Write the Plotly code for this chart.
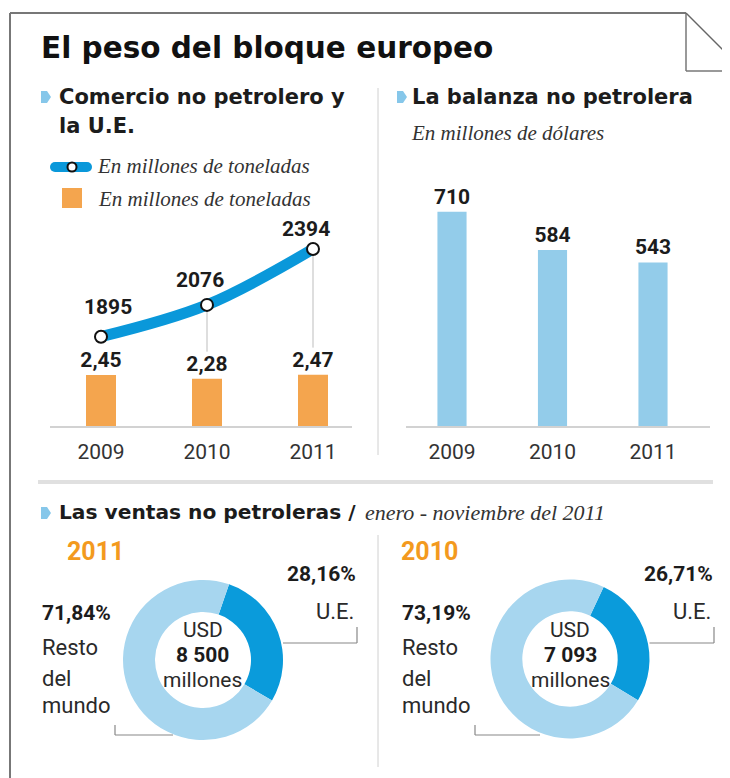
import plotly.graph_objects as go

# ---------------- data ----------------
years = ["2009", "2010", "2011"]
tonnage_orange = [2.45, 2.28, 2.47]          # bars, left chart
tonnage_line = [1895, 2076, 2394]            # line, left chart
balanza = [710, 584, 543]                    # bars, right chart

donut_years = ["2011", "2010"]
donut_labels = ["U.E.", "Resto del mundo"]
donut_ue = [28.16, 26.71]
donut_rest = [71.84, 73.19]
donut_totals = [8500, 7093]

# ---------------- helpers ----------------
W, H = 730, 778
OX, OY = 8, 8                      # page body margin of the browser
FW, FH = W - OX, H - OY            # figure size
SANS = "Roboto, 'Liberation Sans', Arial, sans-serif"
HEAD = "'DejaVu Sans', Verdana, sans-serif"
SERIF = "'Liberation Serif', 'DejaVu Serif', serif"
DARK = "#1c1c1c"
BODY = "#2a2a2a"
ORANGE = "#F4A54E"
LINEBLUE = "#0A98DA"
UEBLUE = "#0A9BDB"
LIGHTBLUE = "#A7D6EF"
BARBLUE = "#93CCEA"
BULLET = "#86C7EA"


def px(x):
    return (x - OX) / FW


def py(y):
    return 1 - (y - OY) / FH


def fmt_dec(v, nd=2):
    return f"{v:.{nd}f}".replace(".", ",")


def fmt_thousands(v):
    return f"{v:,}".replace(",", " ")


annotations = []
shapes = []


def text(x, y, s, size=21, bold=False, color=DARK, anchor="left", family=SANS, italic=False):
    annotations.append(dict(
        x=px(x), y=py(y), xref="paper", yref="paper", text=s, showarrow=False,
        xanchor=anchor, yanchor="middle",
        font=dict(family=family, size=size, color=color,
                  weight="bold" if bold else "normal",
                  style="italic" if italic else "normal"),
    ))


def pline(x0, y0, x1, y1, color="#777", width=1.5):
    shapes.append(dict(type="line", xref="paper", yref="paper",
                       x0=px(x0), y0=py(y0), x1=px(x1), y1=py(y1),
                       line=dict(color=color, width=width)))


def bullet(x0, yc):
    pts = [(x0, yc - 6), (x0 + 6, yc - 6), (x0 + 10, yc), (x0 + 6, yc + 6), (x0, yc + 6)]
    path = "M " + " L ".join(f"{px(a)},{py(b)}" for a, b in pts) + " Z"
    shapes.append(dict(type="path", xref="paper", yref="paper", path=path,
                       fillcolor=BULLET, line=dict(width=0)))


# ---------------- geometry of the small charts ----------------
BASE = 427          # baseline pixel
TOP = 140           # top of plotting domain pixel
BAR_PX_PER_UNIT = 21.2
LINE_PX_PER_UNIT = 0.17575
LINE_AT_BASE = 1381.2
BAL_PX_PER_UNIT = 0.303

bar_range = [0, (BASE - TOP) / BAR_PX_PER_UNIT]
line_range = [LINE_AT_BASE, LINE_AT_BASE + (BASE - TOP) / LINE_PX_PER_UNIT]
bal_range = [0, (BASE - TOP) / BAL_PX_PER_UNIT]


def px_to_line_val(p):
    return LINE_AT_BASE + (BASE - p) / LINE_PX_PER_UNIT


def bar_val_to_px(v):
    return BASE - v * BAR_PX_PER_UNIT


fig = go.Figure()

# left chart: orange bars
fig.add_trace(go.Bar(
    x=years, y=tonnage_orange, xaxis="x", yaxis="y",
    marker=dict(color=ORANGE, line=dict(width=0)), width=0.283,
    text=[fmt_dec(v) for v in tonnage_orange], textposition="outside",
    constraintext="none",
    textfont=dict(family=SANS, size=21, color=DARK, weight="bold"),
    cliponaxis=False, showlegend=False, hoverinfo="skip",
))

# connectors from the line markers down to bar labels (2010, 2011)
for i in (1, 2):
    top_px = bar_val_to_px(tonnage_orange[i]) - 27
    shapes.append(dict(type="line", xref="x", yref="y2",
                       x0=i, x1=i,
                       y0=tonnage_line[i], y1=px_to_line_val(top_px),
                       line=dict(color="#BDBDBD", width=1), layer="below"))

# left chart: blue line
fig.add_trace(go.Scatter(
    x=years, y=tonnage_line, xaxis="x", yaxis="y2", mode="lines+markers",
    line=dict(color=LINEBLUE, width=11, shape="spline"),
    marker=dict(size=12, color="white", line=dict(color="#111", width=2)),
    cliponaxis=False, showlegend=False, hoverinfo="skip",
))

# line labels
offsets = [(7, 30), (-7, 25), (-7, 20)]
for i, v in enumerate(tonnage_line):
    annotations.append(dict(
        x=i, y=v, xref="x", yref="y2", text=str(v), showarrow=False,
        xanchor="center", yanchor="middle", xshift=offsets[i][0], yshift=offsets[i][1],
        font=dict(family=SANS, size=21, color=DARK, weight="bold"),
    ))

# right chart: light blue bars
fig.add_trace(go.Bar(
    x=years, y=balanza, xaxis="x2", yaxis="y3",
    marker=dict(color=BARBLUE, line=dict(width=0)), width=0.29,
    text=[str(v) for v in balanza], textposition="outside",
    constraintext="none",
    textfont=dict(family=SANS, size=21, color=DARK, weight="bold"),
    cliponaxis=False, showlegend=False, hoverinfo="skip",
))

# donuts
donut_geo = [(203, 660, 80, 19), (570, 659, 79.5, 25)]
for k, (cx, cy, r, rot) in enumerate(donut_geo):
    fig.add_trace(go.Pie(
        values=[donut_ue[k], donut_rest[k]], labels=donut_labels,
        domain=dict(x=[px(cx - r), px(cx + r)], y=[py(cy + r), py(cy - r)]),
        hole=0.6, sort=False, direction="clockwise", rotation=rot,
        marker=dict(colors=[UEBLUE, LIGHTBLUE], line=dict(width=0)),
        textinfo="none", hoverinfo="skip", showlegend=False,
    ))

axis_common = dict(type="category", range=[-0.5, 2.5], showgrid=False, zeroline=False,
                   showline=False, ticks="", tickfont=dict(family=SANS, size=21, color="#333"),
                   ticklabelstandoff=10, fixedrange=True)
ycommon = dict(visible=False, showgrid=False, zeroline=False, fixedrange=True,
               domain=[py(BASE), py(TOP)])

fig.update_layout(
    width=FW, height=FH, margin=dict(l=0, r=0, t=0, b=0),
    paper_bgcolor="white", plot_bgcolor="rgba(0,0,0,0)",
    xaxis=dict(domain=[px(48), px(366)], anchor="y", **axis_common),
    xaxis2=dict(domain=[px(401.75), px(703.25)], anchor="y3", **axis_common),
    yaxis=dict(range=bar_range, anchor="x", **ycommon),
    yaxis2=dict(range=line_range, overlaying="y", anchor="x", **ycommon),
    yaxis3=dict(range=bal_range, anchor="x2", **ycommon),
    bargap=0.7,
)

# ---------------- frame ----------------
pline(10, 13, 10, 778, "#777", 2)
pline(10, 13, 686, 13, "#777", 2)
pline(686, 13, 686, 71, "#777", 1.5)
pline(686, 71, 730, 71, "#777", 1.5)
pline(686, 13, 730, 57, "#666", 1.5)

# dividers / baselines
pline(378, 88, 378, 455, "#D0D0D0", 1)
pline(378, 535, 378, 767, "#D0D0D0", 1)
pline(38, 482, 713, 482, "#E0E0E0", 4)
pline(50, BASE, 352, BASE, "#D2D2D2", 2)
pline(406, BASE, 710, BASE, "#D2D2D2", 2)

# ---------------- texts ----------------
text(39, 48, "El peso del bloque europeo", size=29.5, bold=True, color="#111", family=HEAD)

bullet(41, 97)
text(57, 97, "Comercio no petrolero y", size=21, bold=True, family=HEAD)
text(57, 126, "la U.E.", size=21, bold=True, family=HEAD)

bullet(397, 97)
text(410, 97, "La balanza no petrolera", size=21, bold=True, family=HEAD)
text(409, 133, "En millones de dólares", size=21, family=SERIF, italic=True, color="#333")

# legend
shapes.append(dict(type="rect", xref="paper", yref="paper",
                   x0=px(55), x1=px(87), y0=py(172), y1=py(162),
                   fillcolor=LINEBLUE, line=dict(width=0)))
for ex in (55, 87):
    shapes.append(dict(type="circle", xref="paper", yref="paper",
                       x0=px(ex - 5), x1=px(ex + 5), y0=py(172), y1=py(162),
                       fillcolor=LINEBLUE, line=dict(width=0)))
shapes.append(dict(type="circle", xref="paper", yref="paper",
                   x0=px(67.5), x1=px(76.5), y0=py(171.5), y1=py(162.5),
                   fillcolor="white", line=dict(color="#111", width=2)))
shapes.append(dict(type="rect", xref="paper", yref="paper",
                   x0=px(62), x1=px(82), y0=py(208), y1=py(188),
                   fillcolor=ORANGE, line=dict(width=0)))
text(95, 166, "En millones de toneladas", size=21, family=SERIF, italic=True, color="#333")
text(96, 199, "En millones de toneladas", size=21, family=SERIF, italic=True, color="#333")

# bottom section header
bullet(41, 513)
text(57, 512, "Las ventas no petroleras /", size=20.2, bold=True, family=HEAD)
text(363, 512, "enero - noviembre del 2011", size=22, family=SERIF, italic=True, color="#333")

# donut texts
donut_text_x = [(66, 40, 358), (400, 400, 715)]
for k, (cx, cy, r, rot) in enumerate(donut_geo):
    yx, lx, rx = donut_text_x[k]
    text(yx - 1, 551, donut_years[k], size=25, bold=True, color="#F39A1E")
    text(rx, 574, fmt_dec(donut_ue[k]) + "%", size=21, bold=True, anchor="right")
    text(rx - 2, 611, "U.E.", size=22, color=BODY, anchor="right")
    text(lx, 613, fmt_dec(donut_rest[k]) + "%", size=21, bold=True)
    text(lx, 647, "Resto", size=22, color=BODY)
    text(lx, 678, "del", size=22, color=BODY)
    text(lx, 705, "mundo", size=22, color=BODY)
    text(cx, 630, "USD", size=21, color=BODY, anchor="center")
    text(cx, 655, fmt_thousands(donut_totals[k]), size=21, bold=True, anchor="center")
    text(cx, 680, "millones", size=21, color=BODY, anchor="center")
    # leader lines
    pline(cx + r, 643, rx - 1, 643, "#888", 1.2)
    pline(rx - 1, 643, rx - 1, 627, "#888", 1.2)
    pline(lx + 75, 735, cx - 30, 735, "#888", 1.2)
    pline(lx + 75, 735, lx + 75, 725, "#888", 1.2)

fig.update_layout(annotations=annotations, shapes=shapes)
fig.write_html("out.html")
